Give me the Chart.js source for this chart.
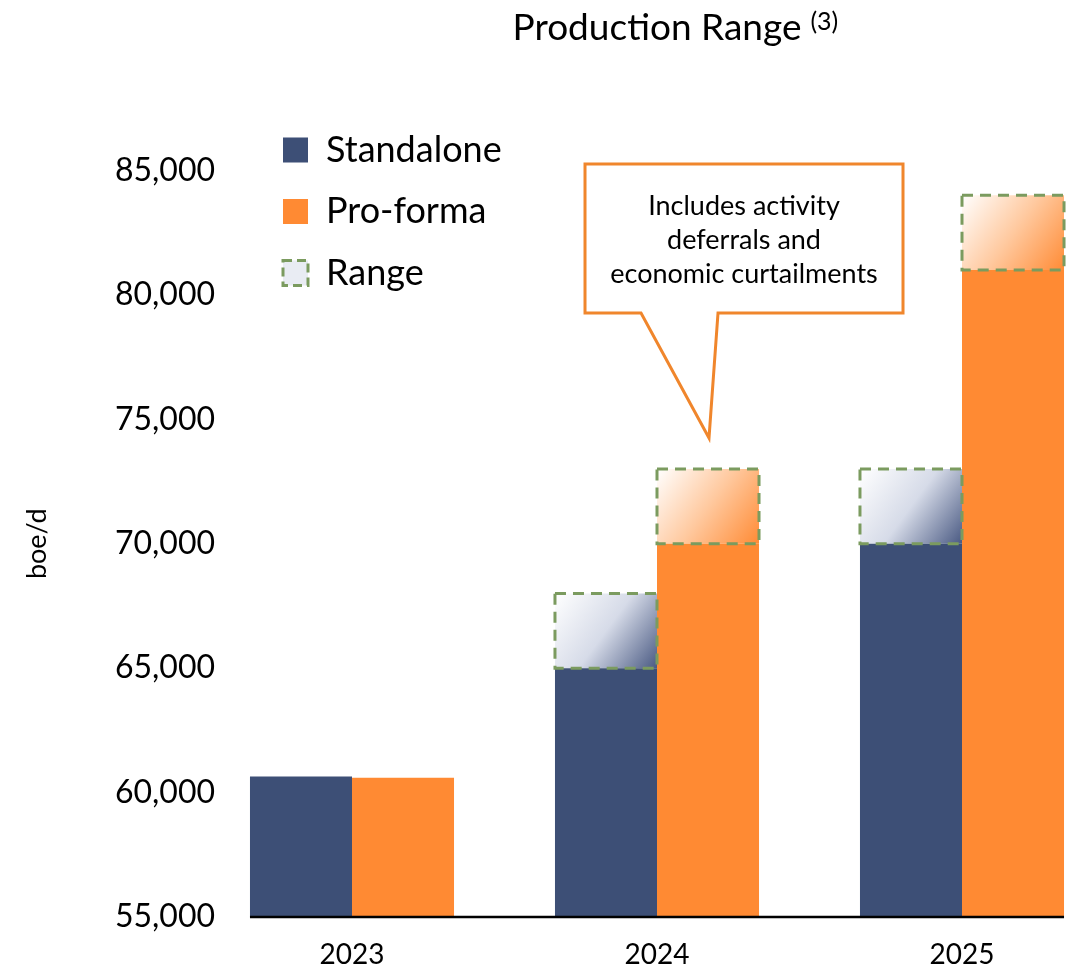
<!DOCTYPE html>
<html>
<head>
<meta charset="utf-8">
<title>Production Range</title>
<script src="https://cdn.jsdelivr.net/npm/chart.js@4"></script>
<style>
  html, body { margin: 0; padding: 0; background: #fff; }
  #wrap { width: 1074px; height: 968px; }
</style>
</head>
<body>
<div id="wrap"><canvas id="productionChart"></canvas></div>
<script>
// ─── Values (boe/d) ────────────────────────────────────────────────────────
const years = ['2023', '2024', '2025'];
const standalone = [60650, 65000, 70000];
const proForma = [60600, 70000, 81000];
const standaloneHigh = [null, 68000, 73000];
const proFormaHigh = [null, 73000, 84000];
const yMin = 55000;
const yMax = 85000;
const yStep = 5000;
const calloutLines = ['Includes activity', 'deferrals and', 'economic curtailments'];
const calloutAt = { year: '2024', value: 74250 };

const NAVY = '#3d4f76';
const ORANGE = '#ff8a33';
const GREEN = '#7b9b5f';
const FONT = 'Lato, "Open Sans", sans-serif';

Chart.defaults.font.family = FONT;
Chart.defaults.color = '#000';

// floating [low, high] bars for the range boxes
const toRange = (low, high) => low.map((v, i) => high[i] == null ? null : [v, high[i]]);

const rangeTints = {
    a: ['#ffffff', '#d6dbe8', '#4a5a83'],
    b: ['#ffffff', '#ffc99f', '#ff8b35']
};

// ─── Range boxes: diagonal gradient fill + dashed green outline ─────────────
const rangeStyle = {
    id: 'rangeStyle',
    beforeDatasetDraw(chart, args) {
        const ds = chart.data.datasets[args.index];
        if (!ds.isRange) return;
        const ctx = chart.ctx;
        const stops = rangeTints[ds.stack];
        args.meta.data.forEach(function (el, i) {
            if (ds.data[i] == null) return;
            const left = el.x - el.width / 2;
            const g = ctx.createLinearGradient(left, el.y, left + el.width, el.base);
            g.addColorStop(0, stops[0]);
            g.addColorStop(0.5, stops[1]);
            g.addColorStop(1, stops[2]);
            el.options.backgroundColor = g;
        });
    },
    afterDatasetsDraw(chart) {
        const ctx = chart.ctx;
        chart.data.datasets.forEach(function (ds, di) {
            if (!ds.isRange) return;
            chart.getDatasetMeta(di).data.forEach(function (el, i) {
                if (ds.data[i] == null) return;
                ctx.save();
                ctx.strokeStyle = GREEN;
                ctx.lineWidth = 3;
                ctx.setLineDash([11, 7]);
                ctx.strokeRect(el.x - el.width / 2, el.y, el.width, el.base - el.y);
                ctx.restore();
            });
        });

        // baseline under the bars, from first bar edge to last bar edge
        const first = chart.getDatasetMeta(0).data[0];
        const last = chart.getDatasetMeta(1).data[years.length - 1];
        const yBase = chart.scales.y.getPixelForValue(yMin);
        ctx.save();
        ctx.strokeStyle = '#000';
        ctx.lineWidth = 2.5;
        ctx.beginPath();
        ctx.moveTo(first.x - first.width / 2, yBase);
        ctx.lineTo(last.x + last.width / 2, yBase);
        ctx.stroke();
        ctx.restore();
    }
};

// ─── Speech-bubble callout + title superscript ─────────────────────────────
const annotations = {
    id: 'annotations',
    afterLayout(chart) {
        // park the legend in the top-left corner, left of the plot
        chart.legend.left = 257.5;
        chart.legend.top = 106.5;
    },
    afterDraw(chart) {
        const ctx = chart.ctx;
        const bar = chart.getDatasetMeta(1).data[years.indexOf(calloutAt.year)];
        const tipX = bar.x;
        const tipY = chart.scales.y.getPixelForValue(calloutAt.value);
        const box = { left: tipX - 123, right: tipX + 195, top: tipY - 274, bottom: tipY - 125 };

        ctx.save();
        ctx.beginPath();
        ctx.moveTo(box.left, box.top);
        ctx.lineTo(box.right, box.top);
        ctx.lineTo(box.right, box.bottom);
        ctx.lineTo(tipX + 10, box.bottom);
        ctx.lineTo(tipX + 1, tipY);
        ctx.lineTo(tipX - 67, box.bottom);
        ctx.lineTo(box.left, box.bottom);
        ctx.closePath();
        ctx.fillStyle = '#fff';
        ctx.fill();
        ctx.strokeStyle = '#f0862c';
        ctx.lineWidth = 3;
        ctx.stroke();

        ctx.fillStyle = '#000';
        ctx.font = '27px ' + FONT;
        ctx.textAlign = 'center';
        ctx.textBaseline = 'middle';
        const cx = (box.left + box.right) / 2;
        calloutLines.forEach(function (line, i) {
            ctx.fillText(line, cx, box.top + 42 + i * 34);
        });

        // "(3)" superscript after the title
        const t = chart.titleBlock;
        const tf = chart.options.plugins.title.font;
        ctx.font = tf.size + 'px ' + FONT;
        const w = ctx.measureText(chart.options.plugins.title.text).width;
        ctx.font = '25px ' + FONT;
        ctx.textAlign = 'left';
        ctx.fillText('(3)', (t.left + t.right) / 2 + w / 2 + 9, 22);
        ctx.restore();
    }
};

new Chart(document.getElementById('productionChart'), {
    type: 'bar',
    data: {
        labels: years,
        datasets: [
            { label: 'Standalone', data: standalone, stack: 'a', backgroundColor: NAVY },
            { label: 'Pro-forma', data: proForma, stack: 'b', backgroundColor: ORANGE },
            { label: 'Range', data: toRange(standalone, standaloneHigh), stack: 'a', isRange: true,
              backgroundColor: () => '#e6e9f1' },
            { label: 'Range', data: toRange(proForma, proFormaHigh), stack: 'b', isRange: true,
              backgroundColor: () => '#ffe2cc' }
        ].map(function (ds) {
            return Object.assign({
                base: yMin, borderWidth: 0, categoryPercentage: 0.669, barPercentage: 1, clip: false
            }, ds);
        })
    },
    options: {
        responsive: true,
        maintainAspectRatio: false,
        animation: false,
        layout: { padding: { left: 0, right: 112, top: 0, bottom: 0 } },
        plugins: {
            title: {
                display: true,
                text: 'Production Range',
                fullSize: false,
                color: '#000',
                font: { size: 37, weight: 'normal' },
                padding: { top: 6, bottom: 120 }
            },
            legend: {
                position: 'chartArea',
                align: 'start',
                labels: {
                    boxWidth: 25,
                    boxHeight: 25,
                    padding: 25.5,
                    font: { size: 36 },
                    generateLabels: function (chart) {
                        return chart.data.datasets.slice(0, 3).map(function (ds, i) {
                            const isRange = !!ds.isRange;
                            return {
                                text: ds.label,
                                datasetIndex: i,
                                fillStyle: isRange ? '#e9ecf3' : ds.backgroundColor,
                                strokeStyle: isRange ? GREEN : 'transparent',
                                lineWidth: isRange ? 3 : 0,
                                lineDash: isRange ? [9, 5] : [],
                                fontColor: '#000',
                                hidden: false
                            };
                        });
                    }
                }
            },
            tooltip: { enabled: false }
        },
        scales: {
            x: {
                offset: false,
                grid: { display: false, drawTicks: false },
                border: { display: false },
                ticks: { font: { size: 28 }, padding: 21, color: '#000' },
                afterFit: function (scale) { scale.height = 51; }
            },
            y: {
                stacked: false,
                min: yMin,
                max: yMax,
                grid: { display: false, drawTicks: false },
                border: { display: false },
                ticks: { stepSize: yStep, font: { size: 32 }, padding: 137, color: '#000' },
                title: { display: true, text: 'boe/d', font: { size: 27 }, padding: { top: 21, bottom: 0 }, color: '#000' },
                afterFit: function (scale) {
                    scale.width = 352;
                    // the wide label gap should not push the plot vertically
                    scale.paddingTop = 20;
                    scale.paddingBottom = 20;
                }
            }
        }
    },
    plugins: [rangeStyle, annotations]
});
</script>
</body>
</html>
